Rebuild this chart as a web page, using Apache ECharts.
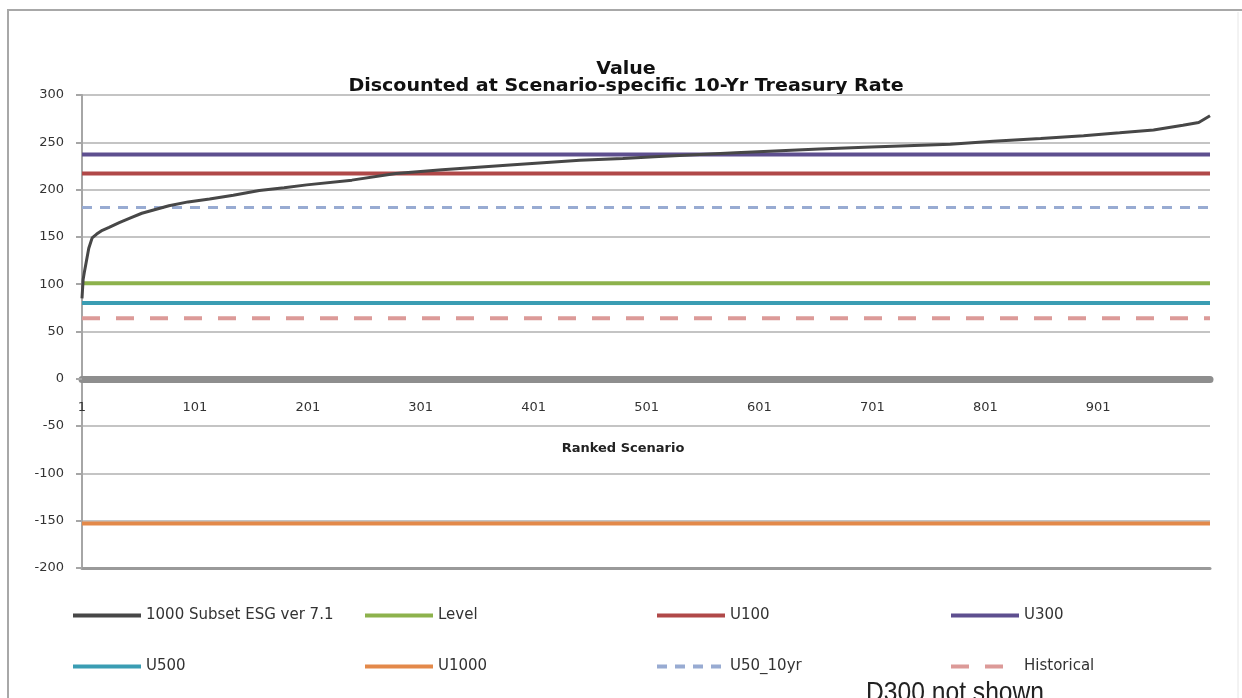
<!DOCTYPE html>
<html>
<head>
<meta charset="utf-8">
<script src="https://cdn.jsdelivr.net/npm/echarts@6/dist/echarts.min.js"></script>
<style>
  html, body { margin: 0; padding: 0; background: #fff; }
  #chart { width: 1242px; height: 698px; }
</style>
</head>
<body>
<div id="chart"></div>
<script>
  // ranked scenario values
  let ranks = [1, 2, 3, 5, 7, 10, 14, 19, 25, 34, 44, 54, 66, 78, 95, 114, 135, 158, 180, 200,
    240, 279, 320, 380, 442, 480, 512, 580, 654, 700, 770, 808, 850, 888, 920, 950, 976, 990, 1000]
  let scenarioValues = [85, 105, 112, 125, 138, 149, 153, 157, 160, 165, 170, 175, 179, 183, 187, 190, 194, 199, 202, 205,
    210, 217, 221, 226, 231, 233, 235, 239, 243, 245, 248, 251, 254, 257, 260, 263, 268, 271, 278]

  // flat reference levels
  let levelNames = ['Level', 'U100', 'U300', 'U500', 'U1000', 'U50_10yr', 'Historical']
  let levelValues = [101, 217, 237, 80, -153, 181, 64]
  let levelColors = ['#8db24c', '#b04848', '#5e4f8f', '#3a9db3', '#e3894a', '#98abd2', '#dc9a98']

  let curveName = '1000 Subset ESG ver 7.1'
  let xTicks = ['1', '101', '201', '301', '401', '501', '601', '701', '801', '901']

  let font = 'DejaVu Sans'
  let myChart = echarts.init(document.getElementById('chart'))

  let series = []
  levelNames.forEach((name, i) => {
    series.push({
      name: name,
      type: 'line',
      symbol: 'none',
      silent: true,
      data: [[0, levelValues[i]], [999, levelValues[i]]],
      lineStyle: {
        color: levelColors[i],
        width: name === 'U50_10yr' ? 3 : 4,
        type: name === 'U50_10yr' ? [10, 8] : (name === 'Historical' ? [18, 16] : 'solid')
      },
      itemStyle: { color: levelColors[i] },
      z: 2
    })
  })
  series.unshift({
    name: curveName,
    type: 'line',
    symbol: 'none',
    data: ranks.map((r, i) => [r - 1, scenarioValues[i]]),
    lineStyle: { color: '#474747', width: 3 },
    itemStyle: { color: '#474747' },
    z: 3
  })

  // legend placed in two rows of four, like the original
  let legendCols = [66, 358, 650, 944]
  let legendRows = [603, 654]
  let legendOrder = [curveName, 'Level', 'U100', 'U300', 'U500', 'U1000', 'U50_10yr', 'Historical']
  let legends = legendOrder.map((name, i) => ({
    data: [name],
    left: legendCols[i % 4],
    top: legendRows[Math.floor(i / 4)],
    itemWidth: 68,
    itemHeight: 14,
    itemGap: 6,
    selectedMode: false,
    itemStyle: { opacity: 0 },
    lineStyle: { width: 4 },
    textStyle: { fontFamily: font, fontSize: 15, color: '#333' }
  }))

  myChart.setOption({
    animation: false,
    backgroundColor: '#fff',
    grid: { left: 82, right: 32, top: 95, bottom: 130 },
    legend: legends,
    xAxis: [{
      type: 'value',
      min: 0,
      max: 999,
      interval: 100,
      position: 'bottom',
      offset: -189,
      axisLine: { onZero: false, lineStyle: { color: '#8e8e8e', width: 7 } },
      axisTick: { show: false },
      splitLine: { show: false },
      axisLabel: {
        margin: 22,
        showMaxLabel: false,
        fontFamily: font,
        fontSize: 13,
        color: '#333',
        formatter: (v) => v % 100 === 0 ? xTicks[v / 100] : ''
      }
    }, {
      type: 'value',
      min: 0,
      max: 999,
      position: 'bottom',
      axisLine: { onZero: false, lineStyle: { color: '#9a9a9a', width: 3 } },
      axisTick: { show: false },
      axisLabel: { show: false },
      splitLine: { show: false }
    }],
    yAxis: {
      type: 'value',
      min: -200,
      max: 300,
      interval: 50,
      axisLine: { show: true, onZero: false, lineStyle: { color: '#a6a6a6', width: 2 } },
      axisTick: { show: true, length: 6, lineStyle: { color: '#a6a6a6', width: 2 } },
      splitLine: { lineStyle: { color: '#c4c4c4', width: 2 } },
      axisLabel: { margin: 18, fontFamily: font, fontSize: 13, color: '#333' }
    },
    graphic: [
      { type: 'polyline', shape: { points: [[8, 698], [8, 10], [1242, 10]] }, style: { stroke: '#a8a8a8', lineWidth: 2, fill: null } },
      { type: 'line', shape: { x1: 1238, y1: 12, x2: 1238, y2: 698 }, style: { stroke: '#e6e6e6', lineWidth: 1 } },
      { type: 'text', x: 626, y: 70, scaleX: 1.12, style: { text: 'Value', fontFamily: font, fontSize: 17, fontWeight: 'bold', fill: '#111', align: 'center', verticalAlign: 'middle' } },
      { type: 'text', x: 626, y: 87, scaleX: 1.12, style: { text: 'Discounted at Scenario-specific 10-Yr Treasury Rate', fontFamily: font, fontSize: 17, fontWeight: 'bold', fill: '#111', align: 'center', verticalAlign: 'middle' } },
      { type: 'text', x: 623, y: 449, style: { text: 'Ranked Scenario', fontFamily: font, fontSize: 13, fontWeight: 'bold', fill: '#222', align: 'center', verticalAlign: 'middle' } },
      { type: 'text', x: 866, y: 679, scaleX: 0.88, style: { text: 'D300 not shown', fontFamily: 'Liberation Sans', fontSize: 28, fill: '#222' } }
    ],
    series: series
  })
</script>
</body>
</html>
